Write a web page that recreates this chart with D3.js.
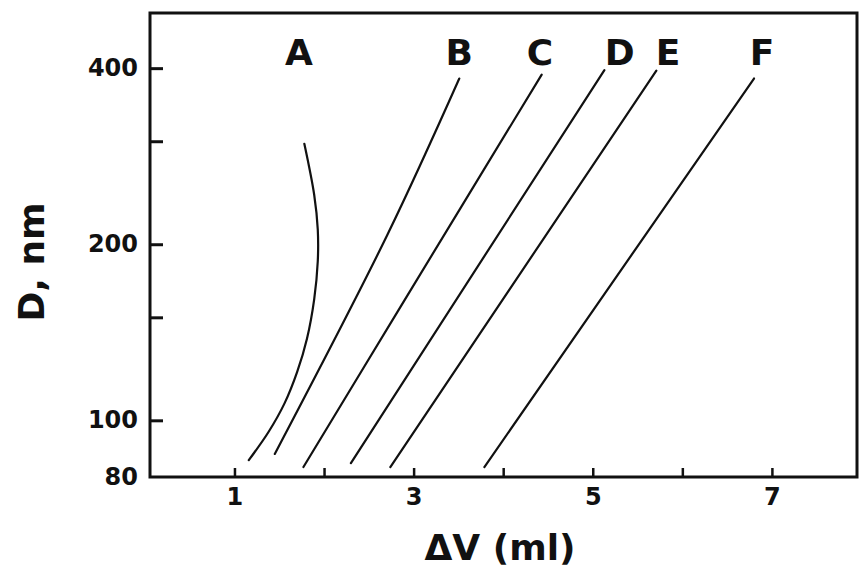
<!DOCTYPE html>
<html>
<head>
    <meta charset="UTF-8">
    <title>D vs ΔV</title>
    <script src="https://d3js.org/d3.v7.min.js"></script>
    <style>
        body { margin: 0; background: #fff; }
        text { font-family: "DejaVu Sans", Verdana, sans-serif; font-weight: bold; fill: #111; }
    </style>
</head>
<body>
    <svg id="chart"></svg>

    <script>
    // curve names and where their letters sit
    const curveNames = ["A", "B", "C", "D", "E", "F"];
    const labelX = [1.72, 3.51, 4.41, 5.30, 5.84, 6.89];
    const labelY = 425;

    // dV (ml) and D (nm) along each curve
    const curveA_dv = [1.16, 1.38, 1.56, 1.70, 1.81, 1.89, 1.93, 1.93, 1.89, 1.78];
    const curveA_d  = [85.5, 95.5, 107, 121, 138, 161, 187, 212, 243, 297];
    const curveB_dv = [1.45, 2.71, 3.51];
    const curveB_d  = [87.6, 208, 384];
    const curveC_dv = [1.77, 2.85, 4.43];
    const curveC_d  = [83.2, 156, 390];
    const curveD_dv = [2.30, 5.13];
    const curveD_d  = [84.5, 397];
    const curveE_dv = [2.74, 5.71];
    const curveE_d  = [83.2, 396];
    const curveF_dv = [3.79, 6.80];
    const curveF_d  = [83.2, 384];

    const xTicks = [1, 2, 3, 4, 5, 6, 7];
    const xTickLabels = [1, 3, 5, 7];
    const yTicks = [100, 150, 200, 300, 400];
    const yTickLabels = [80, 100, 200, 400];

    const width = 859;
    const height = 571;
    const margins = {top: 13, bottom: 94, left: 150, right: 2};

    const svg = d3.select("#chart")
      .attr("width", width)
      .attr("height", height);

    const x_scale = d3.scaleLinear()
      .domain([0.057, 7.95])
      .range([margins.left, width - margins.right]);

    const y_scale = d3.scaleLog()
      .domain([80, 497])
      .range([height - margins.bottom, margins.top]);

    const curves = [
      [curveA_dv, curveA_d], [curveB_dv, curveB_d], [curveC_dv, curveC_d],
      [curveD_dv, curveD_d], [curveE_dv, curveE_d], [curveF_dv, curveF_d]
    ].map(([xs, ys]) => xs.map((v, i) => [v, ys[i]]));

    const line = d3.line()
      .x(d => x_scale(d[0]))
      .y(d => y_scale(d[1]))
      .curve(d3.curveCatmullRom);

    // the curves
    svg.append("g").selectAll("path")
      .data(curves)
      .enter()
      .append("path")
      .attr("d", line)
      .attr("fill", "none")
      .attr("stroke", "#111")
      .attr("stroke-width", 2.2)
      .attr("stroke-linecap", "round");

    // curve letters
    svg.append("g").selectAll("text")
      .data(curveNames)
      .enter()
      .append("text")
      .attr("x", (d, i) => x_scale(labelX[i]))
      .attr("y", y_scale(labelY))
      .attr("text-anchor", "middle")
      .attr("dominant-baseline", "central")
      .attr("font-size", 36)
      .text(d => d);

    // bottom axis: inward ticks, labels on odd values only
    const xAxis = svg.append("g")
      .attr("transform", `translate(0, ${height - margins.bottom})`)
      .call(d3.axisBottom(x_scale)
        .tickValues(xTicks)
        .tickSizeInner(-9)
        .tickSizeOuter(0)
        .tickFormat(d => xTickLabels.includes(d) ? d : ""));
    xAxis.select(".domain").remove();
    xAxis.attr("font-family", null).attr("font-size", null);
    xAxis.selectAll(".tick line").attr("stroke", "#111").attr("stroke-width", 2.5);
    xAxis.selectAll(".tick text")
      .attr("y", 11)
      .attr("fill", "#111")
      .style("font-size", "24px");

    // left axis on a log scale
    const yAxis = svg.append("g")
      .attr("transform", `translate(${margins.left}, 0)`)
      .call(d3.axisLeft(y_scale)
        .tickValues(yTicks)
        .tickSizeInner(-13)
        .tickSizeOuter(0)
        .tickFormat(""));
    yAxis.select(".domain").remove();
    yAxis.selectAll(".tick line").attr("stroke", "#111").attr("stroke-width", 3);

    svg.append("g").selectAll("text")
      .data(yTickLabels)
      .enter()
      .append("text")
      .attr("x", margins.left - 12)
      .attr("y", d => y_scale(d))
      .attr("text-anchor", "end")
      .attr("dominant-baseline", "central")
      .style("font-size", "24px")
      .text(d => d);

    // frame
    svg.append("rect")
      .attr("x", margins.left)
      .attr("y", margins.top)
      .attr("width", width - margins.left - margins.right)
      .attr("height", height - margins.top - margins.bottom)
      .attr("fill", "none")
      .attr("stroke", "#111")
      .attr("stroke-width", 3);

    // axis titles
    svg.append("text")
      .attr("text-anchor", "middle")
      .attr("x", 500)
      .attr("y", 560)
      .style("font-size", "36px")
      .text("ΔV (ml)");

    svg.append("text")
      .attr("text-anchor", "middle")
      .attr("transform", `translate(44, 262)rotate(-90)`)
      .style("font-size", "36px")
      .text("D, nm");
    </script>
</body>
</html>
